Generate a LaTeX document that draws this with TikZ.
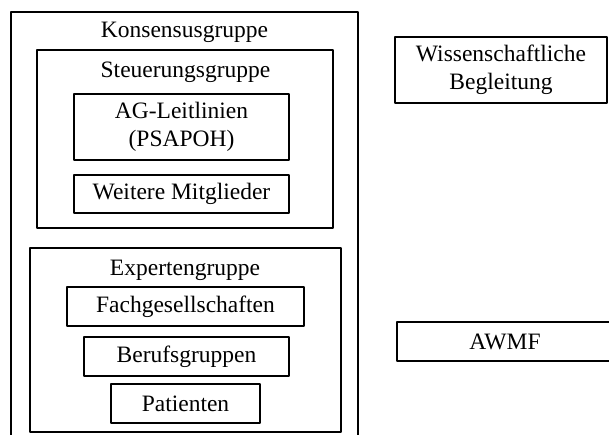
\documentclass[tikz,border=0pt]{standalone}
\usepackage{fontspec}
\setmainfont{Liberation Serif}
\usetikzlibrary{positioning}

\begin{document}
\begin{tikzpicture}[x=0.5pt,y=-0.5pt,line join=bevel,
  box/.style={draw=black,line width=0.9pt,inner sep=0pt,align=center},
  title/.style={draw=none,inner sep=0pt}]
\useasboundingbox (0,0) rectangle (609,434);
\clip (0,0) rectangle (609,434);
\fontsize{11.75}{14}\selectfont
%%
\node (node_konsens) at (184.5,236) [box,minimum width=173.5pt,minimum height=224pt] {};
  \node (node_konsens_t) at (184.5,32) [title] {Konsensusgruppe};
  \node (node_steuer) at (185,139) [box,minimum width=148pt,minimum height=89pt] {};
  \node (node_steuer_t) at (185.5,72) [title] {Steuerungsgruppe};
  \node (node_agleit) at (181.5,127) [box,minimum width=107.5pt,minimum height=33pt] {AG-Leitlinien\\(PSAPOH)};
  \node (node_weitere) at (181.5,194) [box,minimum width=107.5pt,minimum height=19pt] {Weitere Mitglieder};
  \node (node_experten) at (185.5,340) [box,minimum width=155.5pt,minimum height=92pt] {};
  \node (node_experten_t) at (185,270) [title] {Expertengruppe};
  \node (node_fach) at (185.5,306.5) [box,minimum width=118.5pt,minimum height=19.5pt] {Fachgesellschaften};
  \node (node_beruf) at (186.5,356.5) [box,minimum width=102.5pt,minimum height=19.5pt] {Berufsgruppen};
  \node (node_patienten) at (185.5,403.5) [box,minimum width=74.5pt,minimum height=19.5pt] {Patienten};
  \node (node_wiss) at (501,70) [box,minimum width=106pt,minimum height=33pt] {Wissenschaftliche\\Begleitung};
  \node (node_awmf) at (505,341.5) [box,minimum width=108pt,minimum height=19.5pt] {AWMF};
%
\end{tikzpicture}
\end{document}
